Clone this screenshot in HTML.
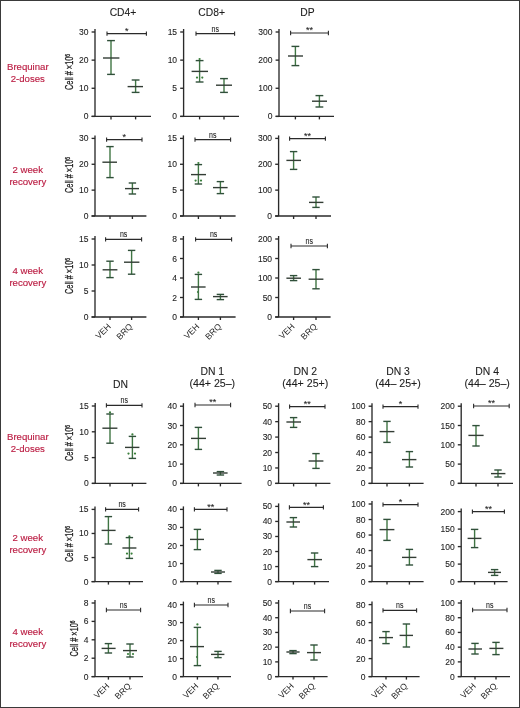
<!DOCTYPE html>
<html><head><meta charset="utf-8"><style>
html,body{margin:0;padding:0;background:#fff;}
body{width:520px;height:708px;overflow:hidden;}
.fr{position:absolute;left:0;top:0;width:518px;height:706px;border:1px solid #3a3a3a;}
svg{position:absolute;left:0;top:0;font-family:"Liberation Sans", sans-serif;filter:blur(0.35px);}
</style></head><body>
<div class="fr"></div>
<svg width="520" height="708" viewBox="0 0 520 708">
<line x1="95.00" y1="29.00" x2="95.00" y2="116.40" stroke="#2a2a2a" stroke-width="1.35"/>
<line x1="91.60" y1="116.40" x2="151.00" y2="116.40" stroke="#2a2a2a" stroke-width="1.35"/>
<line x1="91.60" y1="116.40" x2="95.00" y2="116.40" stroke="#2a2a2a" stroke-width="1.35"/>
<text x="88.50" y="119.40" font-size="8.5" text-anchor="end" fill="#1e1e1e" stroke="#1e1e1e" stroke-width="0.1" >0</text>
<line x1="91.60" y1="88.27" x2="95.00" y2="88.27" stroke="#2a2a2a" stroke-width="1.35"/>
<text x="88.50" y="91.27" font-size="8.5" text-anchor="end" fill="#1e1e1e" stroke="#1e1e1e" stroke-width="0.1" >10</text>
<line x1="91.60" y1="60.13" x2="95.00" y2="60.13" stroke="#2a2a2a" stroke-width="1.35"/>
<text x="88.50" y="63.13" font-size="8.5" text-anchor="end" fill="#1e1e1e" stroke="#1e1e1e" stroke-width="0.1" >20</text>
<line x1="91.60" y1="32.00" x2="95.00" y2="32.00" stroke="#2a2a2a" stroke-width="1.35"/>
<text x="88.50" y="35.00" font-size="8.5" text-anchor="end" fill="#1e1e1e" stroke="#1e1e1e" stroke-width="0.1" >30</text>
<line x1="111.00" y1="116.40" x2="111.00" y2="119.40" stroke="#2a2a2a" stroke-width="1.35"/>
<line x1="135.60" y1="116.40" x2="135.60" y2="119.40" stroke="#2a2a2a" stroke-width="1.35"/>
<line x1="111.00" y1="40.60" x2="111.00" y2="74.40" stroke="#3f7543" stroke-width="1.4"/>
<line x1="107.10" y1="40.60" x2="114.90" y2="40.60" stroke="#30503a" stroke-width="1.4"/>
<line x1="107.10" y1="74.40" x2="114.90" y2="74.40" stroke="#30503a" stroke-width="1.4"/>
<line x1="103.00" y1="58.00" x2="119.40" y2="58.00" stroke="#333d35" stroke-width="1.4"/>
<line x1="135.60" y1="80.00" x2="135.60" y2="92.40" stroke="#3f7543" stroke-width="1.4"/>
<line x1="131.70" y1="80.00" x2="139.50" y2="80.00" stroke="#30503a" stroke-width="1.4"/>
<line x1="131.70" y1="92.40" x2="139.50" y2="92.40" stroke="#30503a" stroke-width="1.4"/>
<line x1="127.60" y1="86.60" x2="143.00" y2="86.60" stroke="#333d35" stroke-width="1.4"/>
<line x1="107.00" y1="33.60" x2="146.40" y2="33.60" stroke="#2a2a2a" stroke-width="1.1"/>
<line x1="107.00" y1="31.40" x2="107.00" y2="35.80" stroke="#2a2a2a" stroke-width="1.1"/>
<line x1="146.40" y1="31.40" x2="146.40" y2="35.80" stroke="#2a2a2a" stroke-width="1.1"/>
<text x="126.70" y="33.90" font-size="9" text-anchor="middle" fill="#1e1e1e" stroke="#1e1e1e" stroke-width="0.1" >*</text>
<text transform="translate(72.50,72.00) rotate(-90)" font-size="10" text-anchor="middle" fill="#1e1e1e" stroke="#1e1e1e" stroke-width="0.3" textLength="36" lengthAdjust="spacingAndGlyphs">Cell # ×10<tspan font-size="6.5" dy="-2.6">6</tspan></text>
<line x1="183.60" y1="29.00" x2="183.60" y2="116.40" stroke="#2a2a2a" stroke-width="1.35"/>
<line x1="180.20" y1="116.40" x2="239.00" y2="116.40" stroke="#2a2a2a" stroke-width="1.35"/>
<line x1="180.20" y1="116.40" x2="183.60" y2="116.40" stroke="#2a2a2a" stroke-width="1.35"/>
<text x="177.10" y="119.40" font-size="8.5" text-anchor="end" fill="#1e1e1e" stroke="#1e1e1e" stroke-width="0.1" >0</text>
<line x1="180.20" y1="88.27" x2="183.60" y2="88.27" stroke="#2a2a2a" stroke-width="1.35"/>
<text x="177.10" y="91.27" font-size="8.5" text-anchor="end" fill="#1e1e1e" stroke="#1e1e1e" stroke-width="0.1" >5</text>
<line x1="180.20" y1="60.13" x2="183.60" y2="60.13" stroke="#2a2a2a" stroke-width="1.35"/>
<text x="177.10" y="63.13" font-size="8.5" text-anchor="end" fill="#1e1e1e" stroke="#1e1e1e" stroke-width="0.1" >10</text>
<line x1="180.20" y1="32.00" x2="183.60" y2="32.00" stroke="#2a2a2a" stroke-width="1.35"/>
<text x="177.10" y="35.00" font-size="8.5" text-anchor="end" fill="#1e1e1e" stroke="#1e1e1e" stroke-width="0.1" >15</text>
<line x1="199.60" y1="116.40" x2="199.60" y2="119.40" stroke="#2a2a2a" stroke-width="1.35"/>
<line x1="224.00" y1="116.40" x2="224.00" y2="119.40" stroke="#2a2a2a" stroke-width="1.35"/>
<circle cx="197.00" cy="77.60" r="1.1" fill="#3a7f3b"/>
<circle cx="202.30" cy="77.60" r="1.1" fill="#3a7f3b"/>
<circle cx="199.60" cy="59.00" r="1.1" fill="#3a7f3b"/>
<line x1="199.60" y1="60.60" x2="199.60" y2="82.00" stroke="#3f7543" stroke-width="1.4"/>
<line x1="195.70" y1="60.60" x2="203.50" y2="60.60" stroke="#30503a" stroke-width="1.4"/>
<line x1="195.70" y1="82.00" x2="203.50" y2="82.00" stroke="#30503a" stroke-width="1.4"/>
<line x1="191.60" y1="71.40" x2="208.00" y2="71.40" stroke="#333d35" stroke-width="1.4"/>
<line x1="224.00" y1="78.60" x2="224.00" y2="92.40" stroke="#3f7543" stroke-width="1.4"/>
<line x1="220.10" y1="78.60" x2="227.90" y2="78.60" stroke="#30503a" stroke-width="1.4"/>
<line x1="220.10" y1="92.40" x2="227.90" y2="92.40" stroke="#30503a" stroke-width="1.4"/>
<line x1="216.00" y1="85.20" x2="232.00" y2="85.20" stroke="#333d35" stroke-width="1.4"/>
<line x1="196.00" y1="33.60" x2="234.60" y2="33.60" stroke="#2a2a2a" stroke-width="1.1"/>
<line x1="196.00" y1="31.40" x2="196.00" y2="35.80" stroke="#2a2a2a" stroke-width="1.1"/>
<line x1="234.60" y1="31.40" x2="234.60" y2="35.80" stroke="#2a2a2a" stroke-width="1.1"/>
<text x="215.30" y="31.60" font-size="8.2" text-anchor="middle" fill="#1e1e1e" stroke="#1e1e1e" stroke-width="0.1" textLength="7.4" lengthAdjust="spacingAndGlyphs">ns</text>
<line x1="279.00" y1="29.00" x2="279.00" y2="116.40" stroke="#2a2a2a" stroke-width="1.35"/>
<line x1="275.60" y1="116.40" x2="334.00" y2="116.40" stroke="#2a2a2a" stroke-width="1.35"/>
<line x1="275.60" y1="116.40" x2="279.00" y2="116.40" stroke="#2a2a2a" stroke-width="1.35"/>
<text x="272.50" y="119.40" font-size="8.5" text-anchor="end" fill="#1e1e1e" stroke="#1e1e1e" stroke-width="0.1" >0</text>
<line x1="275.60" y1="88.27" x2="279.00" y2="88.27" stroke="#2a2a2a" stroke-width="1.35"/>
<text x="272.50" y="91.27" font-size="8.5" text-anchor="end" fill="#1e1e1e" stroke="#1e1e1e" stroke-width="0.1" >100</text>
<line x1="275.60" y1="60.13" x2="279.00" y2="60.13" stroke="#2a2a2a" stroke-width="1.35"/>
<text x="272.50" y="63.13" font-size="8.5" text-anchor="end" fill="#1e1e1e" stroke="#1e1e1e" stroke-width="0.1" >200</text>
<line x1="275.60" y1="32.00" x2="279.00" y2="32.00" stroke="#2a2a2a" stroke-width="1.35"/>
<text x="272.50" y="35.00" font-size="8.5" text-anchor="end" fill="#1e1e1e" stroke="#1e1e1e" stroke-width="0.1" >300</text>
<line x1="295.40" y1="116.40" x2="295.40" y2="119.40" stroke="#2a2a2a" stroke-width="1.35"/>
<line x1="319.40" y1="116.40" x2="319.40" y2="119.40" stroke="#2a2a2a" stroke-width="1.35"/>
<line x1="295.40" y1="46.40" x2="295.40" y2="65.60" stroke="#3f7543" stroke-width="1.4"/>
<line x1="291.50" y1="46.40" x2="299.30" y2="46.40" stroke="#30503a" stroke-width="1.4"/>
<line x1="291.50" y1="65.60" x2="299.30" y2="65.60" stroke="#30503a" stroke-width="1.4"/>
<line x1="288.00" y1="56.00" x2="303.00" y2="56.00" stroke="#333d35" stroke-width="1.4"/>
<line x1="319.40" y1="95.60" x2="319.40" y2="107.00" stroke="#3f7543" stroke-width="1.4"/>
<line x1="315.50" y1="95.60" x2="323.30" y2="95.60" stroke="#30503a" stroke-width="1.4"/>
<line x1="315.50" y1="107.00" x2="323.30" y2="107.00" stroke="#30503a" stroke-width="1.4"/>
<line x1="312.00" y1="101.20" x2="327.00" y2="101.20" stroke="#333d35" stroke-width="1.4"/>
<line x1="290.60" y1="33.00" x2="328.40" y2="33.00" stroke="#2a2a2a" stroke-width="1.1"/>
<line x1="290.60" y1="30.80" x2="290.60" y2="35.20" stroke="#2a2a2a" stroke-width="1.1"/>
<line x1="328.40" y1="30.80" x2="328.40" y2="35.20" stroke="#2a2a2a" stroke-width="1.1"/>
<text x="309.50" y="33.30" font-size="9" text-anchor="middle" fill="#1e1e1e" stroke="#1e1e1e" stroke-width="0.1" >**</text>
<line x1="95.00" y1="135.40" x2="95.00" y2="216.00" stroke="#2a2a2a" stroke-width="1.35"/>
<line x1="91.60" y1="216.00" x2="146.40" y2="216.00" stroke="#2a2a2a" stroke-width="1.35"/>
<line x1="91.60" y1="216.00" x2="95.00" y2="216.00" stroke="#2a2a2a" stroke-width="1.35"/>
<text x="88.50" y="219.00" font-size="8.5" text-anchor="end" fill="#1e1e1e" stroke="#1e1e1e" stroke-width="0.1" >0</text>
<line x1="91.60" y1="190.13" x2="95.00" y2="190.13" stroke="#2a2a2a" stroke-width="1.35"/>
<text x="88.50" y="193.13" font-size="8.5" text-anchor="end" fill="#1e1e1e" stroke="#1e1e1e" stroke-width="0.1" >10</text>
<line x1="91.60" y1="164.27" x2="95.00" y2="164.27" stroke="#2a2a2a" stroke-width="1.35"/>
<text x="88.50" y="167.27" font-size="8.5" text-anchor="end" fill="#1e1e1e" stroke="#1e1e1e" stroke-width="0.1" >20</text>
<line x1="91.60" y1="138.40" x2="95.00" y2="138.40" stroke="#2a2a2a" stroke-width="1.35"/>
<text x="88.50" y="141.40" font-size="8.5" text-anchor="end" fill="#1e1e1e" stroke="#1e1e1e" stroke-width="0.1" >30</text>
<line x1="110.00" y1="216.00" x2="110.00" y2="219.00" stroke="#2a2a2a" stroke-width="1.35"/>
<line x1="132.40" y1="216.00" x2="132.40" y2="219.00" stroke="#2a2a2a" stroke-width="1.35"/>
<line x1="110.00" y1="146.60" x2="110.00" y2="177.60" stroke="#3f7543" stroke-width="1.4"/>
<line x1="106.30" y1="146.60" x2="113.70" y2="146.60" stroke="#30503a" stroke-width="1.4"/>
<line x1="106.30" y1="177.60" x2="113.70" y2="177.60" stroke="#30503a" stroke-width="1.4"/>
<line x1="102.40" y1="162.20" x2="117.00" y2="162.20" stroke="#333d35" stroke-width="1.4"/>
<line x1="132.40" y1="183.00" x2="132.40" y2="194.00" stroke="#3f7543" stroke-width="1.4"/>
<line x1="128.70" y1="183.00" x2="136.10" y2="183.00" stroke="#30503a" stroke-width="1.4"/>
<line x1="128.70" y1="194.00" x2="136.10" y2="194.00" stroke="#30503a" stroke-width="1.4"/>
<line x1="125.00" y1="188.60" x2="139.00" y2="188.60" stroke="#333d35" stroke-width="1.4"/>
<line x1="106.60" y1="139.60" x2="142.00" y2="139.60" stroke="#2a2a2a" stroke-width="1.1"/>
<line x1="106.60" y1="137.40" x2="106.60" y2="141.80" stroke="#2a2a2a" stroke-width="1.1"/>
<line x1="142.00" y1="137.40" x2="142.00" y2="141.80" stroke="#2a2a2a" stroke-width="1.1"/>
<text x="124.30" y="139.90" font-size="9" text-anchor="middle" fill="#1e1e1e" stroke="#1e1e1e" stroke-width="0.1" >*</text>
<text transform="translate(72.50,175.00) rotate(-90)" font-size="10" text-anchor="middle" fill="#1e1e1e" stroke="#1e1e1e" stroke-width="0.3" textLength="36" lengthAdjust="spacingAndGlyphs">Cell # ×10<tspan font-size="6.5" dy="-2.6">6</tspan></text>
<line x1="183.40" y1="135.40" x2="183.40" y2="216.00" stroke="#2a2a2a" stroke-width="1.35"/>
<line x1="180.00" y1="216.00" x2="235.60" y2="216.00" stroke="#2a2a2a" stroke-width="1.35"/>
<line x1="180.00" y1="216.00" x2="183.40" y2="216.00" stroke="#2a2a2a" stroke-width="1.35"/>
<text x="176.90" y="219.00" font-size="8.5" text-anchor="end" fill="#1e1e1e" stroke="#1e1e1e" stroke-width="0.1" >0</text>
<line x1="180.00" y1="190.13" x2="183.40" y2="190.13" stroke="#2a2a2a" stroke-width="1.35"/>
<text x="176.90" y="193.13" font-size="8.5" text-anchor="end" fill="#1e1e1e" stroke="#1e1e1e" stroke-width="0.1" >5</text>
<line x1="180.00" y1="164.27" x2="183.40" y2="164.27" stroke="#2a2a2a" stroke-width="1.35"/>
<text x="176.90" y="167.27" font-size="8.5" text-anchor="end" fill="#1e1e1e" stroke="#1e1e1e" stroke-width="0.1" >10</text>
<line x1="180.00" y1="138.40" x2="183.40" y2="138.40" stroke="#2a2a2a" stroke-width="1.35"/>
<text x="176.90" y="141.40" font-size="8.5" text-anchor="end" fill="#1e1e1e" stroke="#1e1e1e" stroke-width="0.1" >15</text>
<line x1="198.40" y1="216.00" x2="198.40" y2="219.00" stroke="#2a2a2a" stroke-width="1.35"/>
<line x1="220.40" y1="216.00" x2="220.40" y2="219.00" stroke="#2a2a2a" stroke-width="1.35"/>
<circle cx="195.60" cy="180.60" r="1.1" fill="#3a7f3b"/>
<circle cx="201.00" cy="180.60" r="1.1" fill="#3a7f3b"/>
<circle cx="198.40" cy="163.00" r="1.1" fill="#3a7f3b"/>
<line x1="198.40" y1="164.60" x2="198.40" y2="184.00" stroke="#3f7543" stroke-width="1.4"/>
<line x1="194.70" y1="164.60" x2="202.10" y2="164.60" stroke="#30503a" stroke-width="1.4"/>
<line x1="194.70" y1="184.00" x2="202.10" y2="184.00" stroke="#30503a" stroke-width="1.4"/>
<line x1="191.00" y1="174.60" x2="206.00" y2="174.60" stroke="#333d35" stroke-width="1.4"/>
<line x1="220.40" y1="181.60" x2="220.40" y2="193.60" stroke="#3f7543" stroke-width="1.4"/>
<line x1="216.70" y1="181.60" x2="224.10" y2="181.60" stroke="#30503a" stroke-width="1.4"/>
<line x1="216.70" y1="193.60" x2="224.10" y2="193.60" stroke="#30503a" stroke-width="1.4"/>
<line x1="213.00" y1="187.60" x2="227.60" y2="187.60" stroke="#333d35" stroke-width="1.4"/>
<line x1="195.00" y1="139.60" x2="230.60" y2="139.60" stroke="#2a2a2a" stroke-width="1.1"/>
<line x1="195.00" y1="137.40" x2="195.00" y2="141.80" stroke="#2a2a2a" stroke-width="1.1"/>
<line x1="230.60" y1="137.40" x2="230.60" y2="141.80" stroke="#2a2a2a" stroke-width="1.1"/>
<text x="212.80" y="137.60" font-size="8.2" text-anchor="middle" fill="#1e1e1e" stroke="#1e1e1e" stroke-width="0.1" textLength="7.4" lengthAdjust="spacingAndGlyphs">ns</text>
<line x1="278.60" y1="135.40" x2="278.60" y2="216.00" stroke="#2a2a2a" stroke-width="1.35"/>
<line x1="275.20" y1="216.00" x2="331.00" y2="216.00" stroke="#2a2a2a" stroke-width="1.35"/>
<line x1="275.20" y1="216.00" x2="278.60" y2="216.00" stroke="#2a2a2a" stroke-width="1.35"/>
<text x="272.10" y="219.00" font-size="8.5" text-anchor="end" fill="#1e1e1e" stroke="#1e1e1e" stroke-width="0.1" >0</text>
<line x1="275.20" y1="190.13" x2="278.60" y2="190.13" stroke="#2a2a2a" stroke-width="1.35"/>
<text x="272.10" y="193.13" font-size="8.5" text-anchor="end" fill="#1e1e1e" stroke="#1e1e1e" stroke-width="0.1" >100</text>
<line x1="275.20" y1="164.27" x2="278.60" y2="164.27" stroke="#2a2a2a" stroke-width="1.35"/>
<text x="272.10" y="167.27" font-size="8.5" text-anchor="end" fill="#1e1e1e" stroke="#1e1e1e" stroke-width="0.1" >200</text>
<line x1="275.20" y1="138.40" x2="278.60" y2="138.40" stroke="#2a2a2a" stroke-width="1.35"/>
<text x="272.10" y="141.40" font-size="8.5" text-anchor="end" fill="#1e1e1e" stroke="#1e1e1e" stroke-width="0.1" >300</text>
<line x1="293.60" y1="216.00" x2="293.60" y2="219.00" stroke="#2a2a2a" stroke-width="1.35"/>
<line x1="316.00" y1="216.00" x2="316.00" y2="219.00" stroke="#2a2a2a" stroke-width="1.35"/>
<line x1="293.60" y1="151.60" x2="293.60" y2="169.40" stroke="#3f7543" stroke-width="1.4"/>
<line x1="289.90" y1="151.60" x2="297.30" y2="151.60" stroke="#30503a" stroke-width="1.4"/>
<line x1="289.90" y1="169.40" x2="297.30" y2="169.40" stroke="#30503a" stroke-width="1.4"/>
<line x1="286.40" y1="160.40" x2="301.00" y2="160.40" stroke="#333d35" stroke-width="1.4"/>
<line x1="316.00" y1="197.00" x2="316.00" y2="207.40" stroke="#3f7543" stroke-width="1.4"/>
<line x1="312.30" y1="197.00" x2="319.70" y2="197.00" stroke="#30503a" stroke-width="1.4"/>
<line x1="312.30" y1="207.40" x2="319.70" y2="207.40" stroke="#30503a" stroke-width="1.4"/>
<line x1="309.00" y1="202.40" x2="323.40" y2="202.40" stroke="#333d35" stroke-width="1.4"/>
<line x1="289.60" y1="138.60" x2="325.40" y2="138.60" stroke="#2a2a2a" stroke-width="1.1"/>
<line x1="289.60" y1="136.40" x2="289.60" y2="140.80" stroke="#2a2a2a" stroke-width="1.1"/>
<line x1="325.40" y1="136.40" x2="325.40" y2="140.80" stroke="#2a2a2a" stroke-width="1.1"/>
<text x="307.50" y="138.90" font-size="9" text-anchor="middle" fill="#1e1e1e" stroke="#1e1e1e" stroke-width="0.1" >**</text>
<line x1="95.00" y1="236.00" x2="95.00" y2="317.00" stroke="#2a2a2a" stroke-width="1.35"/>
<line x1="91.60" y1="317.00" x2="146.40" y2="317.00" stroke="#2a2a2a" stroke-width="1.35"/>
<line x1="91.60" y1="317.00" x2="95.00" y2="317.00" stroke="#2a2a2a" stroke-width="1.35"/>
<text x="88.50" y="320.00" font-size="8.5" text-anchor="end" fill="#1e1e1e" stroke="#1e1e1e" stroke-width="0.1" >0</text>
<line x1="91.60" y1="291.00" x2="95.00" y2="291.00" stroke="#2a2a2a" stroke-width="1.35"/>
<text x="88.50" y="294.00" font-size="8.5" text-anchor="end" fill="#1e1e1e" stroke="#1e1e1e" stroke-width="0.1" >5</text>
<line x1="91.60" y1="265.00" x2="95.00" y2="265.00" stroke="#2a2a2a" stroke-width="1.35"/>
<text x="88.50" y="268.00" font-size="8.5" text-anchor="end" fill="#1e1e1e" stroke="#1e1e1e" stroke-width="0.1" >10</text>
<line x1="91.60" y1="239.00" x2="95.00" y2="239.00" stroke="#2a2a2a" stroke-width="1.35"/>
<text x="88.50" y="242.00" font-size="8.5" text-anchor="end" fill="#1e1e1e" stroke="#1e1e1e" stroke-width="0.1" >15</text>
<line x1="110.00" y1="317.00" x2="110.00" y2="320.00" stroke="#2a2a2a" stroke-width="1.35"/>
<line x1="131.60" y1="317.00" x2="131.60" y2="320.00" stroke="#2a2a2a" stroke-width="1.35"/>
<line x1="110.00" y1="261.20" x2="110.00" y2="277.60" stroke="#3f7543" stroke-width="1.4"/>
<line x1="106.30" y1="261.20" x2="113.70" y2="261.20" stroke="#30503a" stroke-width="1.4"/>
<line x1="106.30" y1="277.60" x2="113.70" y2="277.60" stroke="#30503a" stroke-width="1.4"/>
<line x1="102.60" y1="269.80" x2="117.40" y2="269.80" stroke="#333d35" stroke-width="1.4"/>
<line x1="131.60" y1="250.40" x2="131.60" y2="274.20" stroke="#3f7543" stroke-width="1.4"/>
<line x1="127.90" y1="250.40" x2="135.30" y2="250.40" stroke="#30503a" stroke-width="1.4"/>
<line x1="127.90" y1="274.20" x2="135.30" y2="274.20" stroke="#30503a" stroke-width="1.4"/>
<line x1="124.00" y1="262.20" x2="139.40" y2="262.20" stroke="#333d35" stroke-width="1.4"/>
<line x1="105.60" y1="239.40" x2="141.60" y2="239.40" stroke="#2a2a2a" stroke-width="1.1"/>
<line x1="105.60" y1="237.20" x2="105.60" y2="241.60" stroke="#2a2a2a" stroke-width="1.1"/>
<line x1="141.60" y1="237.20" x2="141.60" y2="241.60" stroke="#2a2a2a" stroke-width="1.1"/>
<text x="123.60" y="237.40" font-size="8.2" text-anchor="middle" fill="#1e1e1e" stroke="#1e1e1e" stroke-width="0.1" textLength="7.4" lengthAdjust="spacingAndGlyphs">ns</text>
<text transform="translate(111.50,327.00) rotate(-45)" font-size="8.6" text-anchor="end" fill="#1e1e1e">VEH</text>
<text transform="translate(133.10,327.00) rotate(-45)" font-size="8.6" text-anchor="end" fill="#1e1e1e">BRQ</text>
<text transform="translate(72.50,276.00) rotate(-90)" font-size="10" text-anchor="middle" fill="#1e1e1e" stroke="#1e1e1e" stroke-width="0.3" textLength="36" lengthAdjust="spacingAndGlyphs">Cell # ×10<tspan font-size="6.5" dy="-2.6">6</tspan></text>
<line x1="183.40" y1="236.00" x2="183.40" y2="317.00" stroke="#2a2a2a" stroke-width="1.35"/>
<line x1="180.00" y1="317.00" x2="235.60" y2="317.00" stroke="#2a2a2a" stroke-width="1.35"/>
<line x1="180.00" y1="317.00" x2="183.40" y2="317.00" stroke="#2a2a2a" stroke-width="1.35"/>
<text x="176.90" y="320.00" font-size="8.5" text-anchor="end" fill="#1e1e1e" stroke="#1e1e1e" stroke-width="0.1" >0</text>
<line x1="180.00" y1="297.50" x2="183.40" y2="297.50" stroke="#2a2a2a" stroke-width="1.35"/>
<text x="176.90" y="300.50" font-size="8.5" text-anchor="end" fill="#1e1e1e" stroke="#1e1e1e" stroke-width="0.1" >2</text>
<line x1="180.00" y1="278.00" x2="183.40" y2="278.00" stroke="#2a2a2a" stroke-width="1.35"/>
<text x="176.90" y="281.00" font-size="8.5" text-anchor="end" fill="#1e1e1e" stroke="#1e1e1e" stroke-width="0.1" >4</text>
<line x1="180.00" y1="258.50" x2="183.40" y2="258.50" stroke="#2a2a2a" stroke-width="1.35"/>
<text x="176.90" y="261.50" font-size="8.5" text-anchor="end" fill="#1e1e1e" stroke="#1e1e1e" stroke-width="0.1" >6</text>
<line x1="180.00" y1="239.00" x2="183.40" y2="239.00" stroke="#2a2a2a" stroke-width="1.35"/>
<text x="176.90" y="242.00" font-size="8.5" text-anchor="end" fill="#1e1e1e" stroke="#1e1e1e" stroke-width="0.1" >8</text>
<line x1="198.40" y1="317.00" x2="198.40" y2="320.00" stroke="#2a2a2a" stroke-width="1.35"/>
<line x1="220.40" y1="317.00" x2="220.40" y2="320.00" stroke="#2a2a2a" stroke-width="1.35"/>
<circle cx="198.40" cy="272.60" r="1.1" fill="#3a7f3b"/>
<circle cx="198.00" cy="292.00" r="1.1" fill="#3a7f3b"/>
<line x1="198.40" y1="274.40" x2="198.40" y2="299.40" stroke="#3f7543" stroke-width="1.4"/>
<line x1="194.70" y1="274.40" x2="202.10" y2="274.40" stroke="#30503a" stroke-width="1.4"/>
<line x1="194.70" y1="299.40" x2="202.10" y2="299.40" stroke="#30503a" stroke-width="1.4"/>
<line x1="191.00" y1="287.00" x2="205.60" y2="287.00" stroke="#333d35" stroke-width="1.4"/>
<line x1="220.40" y1="294.40" x2="220.40" y2="299.60" stroke="#3f7543" stroke-width="1.4"/>
<line x1="216.70" y1="294.40" x2="224.10" y2="294.40" stroke="#30503a" stroke-width="1.4"/>
<line x1="216.70" y1="299.60" x2="224.10" y2="299.60" stroke="#30503a" stroke-width="1.4"/>
<line x1="213.00" y1="296.60" x2="227.60" y2="296.60" stroke="#333d35" stroke-width="1.4"/>
<line x1="195.60" y1="239.40" x2="231.60" y2="239.40" stroke="#2a2a2a" stroke-width="1.1"/>
<line x1="195.60" y1="237.20" x2="195.60" y2="241.60" stroke="#2a2a2a" stroke-width="1.1"/>
<line x1="231.60" y1="237.20" x2="231.60" y2="241.60" stroke="#2a2a2a" stroke-width="1.1"/>
<text x="213.60" y="237.40" font-size="8.2" text-anchor="middle" fill="#1e1e1e" stroke="#1e1e1e" stroke-width="0.1" textLength="7.4" lengthAdjust="spacingAndGlyphs">ns</text>
<text transform="translate(199.90,327.00) rotate(-45)" font-size="8.6" text-anchor="end" fill="#1e1e1e">VEH</text>
<text transform="translate(221.90,327.00) rotate(-45)" font-size="8.6" text-anchor="end" fill="#1e1e1e">BRQ</text>
<line x1="278.60" y1="236.00" x2="278.60" y2="317.00" stroke="#2a2a2a" stroke-width="1.35"/>
<line x1="275.20" y1="317.00" x2="330.60" y2="317.00" stroke="#2a2a2a" stroke-width="1.35"/>
<line x1="275.20" y1="317.00" x2="278.60" y2="317.00" stroke="#2a2a2a" stroke-width="1.35"/>
<text x="272.10" y="320.00" font-size="8.5" text-anchor="end" fill="#1e1e1e" stroke="#1e1e1e" stroke-width="0.1" >0</text>
<line x1="275.20" y1="297.50" x2="278.60" y2="297.50" stroke="#2a2a2a" stroke-width="1.35"/>
<text x="272.10" y="300.50" font-size="8.5" text-anchor="end" fill="#1e1e1e" stroke="#1e1e1e" stroke-width="0.1" >50</text>
<line x1="275.20" y1="278.00" x2="278.60" y2="278.00" stroke="#2a2a2a" stroke-width="1.35"/>
<text x="272.10" y="281.00" font-size="8.5" text-anchor="end" fill="#1e1e1e" stroke="#1e1e1e" stroke-width="0.1" >100</text>
<line x1="275.20" y1="258.50" x2="278.60" y2="258.50" stroke="#2a2a2a" stroke-width="1.35"/>
<text x="272.10" y="261.50" font-size="8.5" text-anchor="end" fill="#1e1e1e" stroke="#1e1e1e" stroke-width="0.1" >150</text>
<line x1="275.20" y1="239.00" x2="278.60" y2="239.00" stroke="#2a2a2a" stroke-width="1.35"/>
<text x="272.10" y="242.00" font-size="8.5" text-anchor="end" fill="#1e1e1e" stroke="#1e1e1e" stroke-width="0.1" >200</text>
<line x1="293.60" y1="317.00" x2="293.60" y2="320.00" stroke="#2a2a2a" stroke-width="1.35"/>
<line x1="316.00" y1="317.00" x2="316.00" y2="320.00" stroke="#2a2a2a" stroke-width="1.35"/>
<line x1="293.60" y1="275.60" x2="293.60" y2="280.60" stroke="#3f7543" stroke-width="1.4"/>
<line x1="289.90" y1="275.60" x2="297.30" y2="275.60" stroke="#30503a" stroke-width="1.4"/>
<line x1="289.90" y1="280.60" x2="297.30" y2="280.60" stroke="#30503a" stroke-width="1.4"/>
<line x1="286.40" y1="278.20" x2="301.00" y2="278.20" stroke="#333d35" stroke-width="1.4"/>
<line x1="316.00" y1="269.60" x2="316.00" y2="288.80" stroke="#3f7543" stroke-width="1.4"/>
<line x1="312.30" y1="269.60" x2="319.70" y2="269.60" stroke="#30503a" stroke-width="1.4"/>
<line x1="312.30" y1="288.80" x2="319.70" y2="288.80" stroke="#30503a" stroke-width="1.4"/>
<line x1="308.60" y1="279.20" x2="323.40" y2="279.20" stroke="#333d35" stroke-width="1.4"/>
<line x1="291.00" y1="246.00" x2="327.40" y2="246.00" stroke="#2a2a2a" stroke-width="1.1"/>
<line x1="291.00" y1="243.80" x2="291.00" y2="248.20" stroke="#2a2a2a" stroke-width="1.1"/>
<line x1="327.40" y1="243.80" x2="327.40" y2="248.20" stroke="#2a2a2a" stroke-width="1.1"/>
<text x="309.20" y="244.00" font-size="8.2" text-anchor="middle" fill="#1e1e1e" stroke="#1e1e1e" stroke-width="0.1" textLength="7.4" lengthAdjust="spacingAndGlyphs">ns</text>
<text transform="translate(295.10,327.00) rotate(-45)" font-size="8.6" text-anchor="end" fill="#1e1e1e">VEH</text>
<text transform="translate(317.50,327.00) rotate(-45)" font-size="8.6" text-anchor="end" fill="#1e1e1e">BRQ</text>
<line x1="95.20" y1="403.00" x2="95.20" y2="483.40" stroke="#2a2a2a" stroke-width="1.35"/>
<line x1="91.80" y1="483.40" x2="146.40" y2="483.40" stroke="#2a2a2a" stroke-width="1.35"/>
<line x1="91.80" y1="483.40" x2="95.20" y2="483.40" stroke="#2a2a2a" stroke-width="1.35"/>
<text x="88.70" y="486.40" font-size="8.5" text-anchor="end" fill="#1e1e1e" stroke="#1e1e1e" stroke-width="0.1" >0</text>
<line x1="91.80" y1="457.60" x2="95.20" y2="457.60" stroke="#2a2a2a" stroke-width="1.35"/>
<text x="88.70" y="460.60" font-size="8.5" text-anchor="end" fill="#1e1e1e" stroke="#1e1e1e" stroke-width="0.1" >5</text>
<line x1="91.80" y1="431.80" x2="95.20" y2="431.80" stroke="#2a2a2a" stroke-width="1.35"/>
<text x="88.70" y="434.80" font-size="8.5" text-anchor="end" fill="#1e1e1e" stroke="#1e1e1e" stroke-width="0.1" >10</text>
<line x1="91.80" y1="406.00" x2="95.20" y2="406.00" stroke="#2a2a2a" stroke-width="1.35"/>
<text x="88.70" y="409.00" font-size="8.5" text-anchor="end" fill="#1e1e1e" stroke="#1e1e1e" stroke-width="0.1" >15</text>
<line x1="110.00" y1="483.40" x2="110.00" y2="486.40" stroke="#2a2a2a" stroke-width="1.35"/>
<line x1="132.40" y1="483.40" x2="132.40" y2="486.40" stroke="#2a2a2a" stroke-width="1.35"/>
<circle cx="128.50" cy="453.60" r="1.1" fill="#3a7f3b"/>
<circle cx="135.00" cy="453.60" r="1.1" fill="#3a7f3b"/>
<circle cx="132.40" cy="434.40" r="1.1" fill="#3a7f3b"/>
<circle cx="110.00" cy="412.40" r="1.1" fill="#3a7f3b"/>
<line x1="110.00" y1="414.00" x2="110.00" y2="443.20" stroke="#3f7543" stroke-width="1.4"/>
<line x1="106.30" y1="414.00" x2="113.70" y2="414.00" stroke="#30503a" stroke-width="1.4"/>
<line x1="106.30" y1="443.20" x2="113.70" y2="443.20" stroke="#30503a" stroke-width="1.4"/>
<line x1="102.40" y1="428.20" x2="117.40" y2="428.20" stroke="#333d35" stroke-width="1.4"/>
<line x1="132.40" y1="436.40" x2="132.40" y2="458.40" stroke="#3f7543" stroke-width="1.4"/>
<line x1="128.70" y1="436.40" x2="136.10" y2="436.40" stroke="#30503a" stroke-width="1.4"/>
<line x1="128.70" y1="458.40" x2="136.10" y2="458.40" stroke="#30503a" stroke-width="1.4"/>
<line x1="125.00" y1="447.40" x2="139.40" y2="447.40" stroke="#333d35" stroke-width="1.4"/>
<line x1="106.40" y1="405.40" x2="142.00" y2="405.40" stroke="#2a2a2a" stroke-width="1.1"/>
<line x1="106.40" y1="403.20" x2="106.40" y2="407.60" stroke="#2a2a2a" stroke-width="1.1"/>
<line x1="142.00" y1="403.20" x2="142.00" y2="407.60" stroke="#2a2a2a" stroke-width="1.1"/>
<text x="124.20" y="403.40" font-size="8.2" text-anchor="middle" fill="#1e1e1e" stroke="#1e1e1e" stroke-width="0.1" textLength="7.4" lengthAdjust="spacingAndGlyphs">ns</text>
<text transform="translate(72.50,443.00) rotate(-90)" font-size="10" text-anchor="middle" fill="#1e1e1e" stroke="#1e1e1e" stroke-width="0.3" textLength="36" lengthAdjust="spacingAndGlyphs">Cell # ×10<tspan font-size="6.5" dy="-2.6">6</tspan></text>
<line x1="183.40" y1="403.20" x2="183.40" y2="483.40" stroke="#2a2a2a" stroke-width="1.35"/>
<line x1="180.00" y1="483.40" x2="241.60" y2="483.40" stroke="#2a2a2a" stroke-width="1.35"/>
<line x1="180.00" y1="483.40" x2="183.40" y2="483.40" stroke="#2a2a2a" stroke-width="1.35"/>
<text x="176.90" y="486.40" font-size="8.5" text-anchor="end" fill="#1e1e1e" stroke="#1e1e1e" stroke-width="0.1" >0</text>
<line x1="180.00" y1="464.10" x2="183.40" y2="464.10" stroke="#2a2a2a" stroke-width="1.35"/>
<text x="176.90" y="467.10" font-size="8.5" text-anchor="end" fill="#1e1e1e" stroke="#1e1e1e" stroke-width="0.1" >10</text>
<line x1="180.00" y1="444.80" x2="183.40" y2="444.80" stroke="#2a2a2a" stroke-width="1.35"/>
<text x="176.90" y="447.80" font-size="8.5" text-anchor="end" fill="#1e1e1e" stroke="#1e1e1e" stroke-width="0.1" >20</text>
<line x1="180.00" y1="425.50" x2="183.40" y2="425.50" stroke="#2a2a2a" stroke-width="1.35"/>
<text x="176.90" y="428.50" font-size="8.5" text-anchor="end" fill="#1e1e1e" stroke="#1e1e1e" stroke-width="0.1" >30</text>
<line x1="180.00" y1="406.20" x2="183.40" y2="406.20" stroke="#2a2a2a" stroke-width="1.35"/>
<text x="176.90" y="409.20" font-size="8.5" text-anchor="end" fill="#1e1e1e" stroke="#1e1e1e" stroke-width="0.1" >40</text>
<line x1="198.40" y1="483.40" x2="198.40" y2="486.40" stroke="#2a2a2a" stroke-width="1.35"/>
<line x1="220.40" y1="483.40" x2="220.40" y2="486.40" stroke="#2a2a2a" stroke-width="1.35"/>
<line x1="198.40" y1="427.40" x2="198.40" y2="449.40" stroke="#3f7543" stroke-width="1.4"/>
<line x1="194.70" y1="427.40" x2="202.10" y2="427.40" stroke="#30503a" stroke-width="1.4"/>
<line x1="194.70" y1="449.40" x2="202.10" y2="449.40" stroke="#30503a" stroke-width="1.4"/>
<line x1="191.00" y1="438.40" x2="206.00" y2="438.40" stroke="#333d35" stroke-width="1.4"/>
<line x1="220.40" y1="471.60" x2="220.40" y2="475.00" stroke="#3f7543" stroke-width="1.4"/>
<line x1="216.70" y1="471.60" x2="224.10" y2="471.60" stroke="#30503a" stroke-width="1.4"/>
<line x1="216.70" y1="475.00" x2="224.10" y2="475.00" stroke="#30503a" stroke-width="1.4"/>
<line x1="213.00" y1="473.00" x2="227.60" y2="473.00" stroke="#333d35" stroke-width="1.4"/>
<line x1="195.00" y1="405.00" x2="230.60" y2="405.00" stroke="#2a2a2a" stroke-width="1.1"/>
<line x1="195.00" y1="402.80" x2="195.00" y2="407.20" stroke="#2a2a2a" stroke-width="1.1"/>
<line x1="230.60" y1="402.80" x2="230.60" y2="407.20" stroke="#2a2a2a" stroke-width="1.1"/>
<text x="212.80" y="405.30" font-size="9" text-anchor="middle" fill="#1e1e1e" stroke="#1e1e1e" stroke-width="0.1" >**</text>
<line x1="278.60" y1="403.20" x2="278.60" y2="483.40" stroke="#2a2a2a" stroke-width="1.35"/>
<line x1="275.20" y1="483.40" x2="330.40" y2="483.40" stroke="#2a2a2a" stroke-width="1.35"/>
<line x1="275.20" y1="483.40" x2="278.60" y2="483.40" stroke="#2a2a2a" stroke-width="1.35"/>
<text x="272.10" y="486.40" font-size="8.5" text-anchor="end" fill="#1e1e1e" stroke="#1e1e1e" stroke-width="0.1" >0</text>
<line x1="275.20" y1="467.96" x2="278.60" y2="467.96" stroke="#2a2a2a" stroke-width="1.35"/>
<text x="272.10" y="470.96" font-size="8.5" text-anchor="end" fill="#1e1e1e" stroke="#1e1e1e" stroke-width="0.1" >10</text>
<line x1="275.20" y1="452.52" x2="278.60" y2="452.52" stroke="#2a2a2a" stroke-width="1.35"/>
<text x="272.10" y="455.52" font-size="8.5" text-anchor="end" fill="#1e1e1e" stroke="#1e1e1e" stroke-width="0.1" >20</text>
<line x1="275.20" y1="437.08" x2="278.60" y2="437.08" stroke="#2a2a2a" stroke-width="1.35"/>
<text x="272.10" y="440.08" font-size="8.5" text-anchor="end" fill="#1e1e1e" stroke="#1e1e1e" stroke-width="0.1" >30</text>
<line x1="275.20" y1="421.64" x2="278.60" y2="421.64" stroke="#2a2a2a" stroke-width="1.35"/>
<text x="272.10" y="424.64" font-size="8.5" text-anchor="end" fill="#1e1e1e" stroke="#1e1e1e" stroke-width="0.1" >40</text>
<line x1="275.20" y1="406.20" x2="278.60" y2="406.20" stroke="#2a2a2a" stroke-width="1.35"/>
<text x="272.10" y="409.20" font-size="8.5" text-anchor="end" fill="#1e1e1e" stroke="#1e1e1e" stroke-width="0.1" >50</text>
<line x1="293.60" y1="483.40" x2="293.60" y2="486.40" stroke="#2a2a2a" stroke-width="1.35"/>
<line x1="316.00" y1="483.40" x2="316.00" y2="486.40" stroke="#2a2a2a" stroke-width="1.35"/>
<line x1="293.60" y1="417.60" x2="293.60" y2="427.40" stroke="#3f7543" stroke-width="1.4"/>
<line x1="289.90" y1="417.60" x2="297.30" y2="417.60" stroke="#30503a" stroke-width="1.4"/>
<line x1="289.90" y1="427.40" x2="297.30" y2="427.40" stroke="#30503a" stroke-width="1.4"/>
<line x1="286.40" y1="422.00" x2="301.00" y2="422.00" stroke="#333d35" stroke-width="1.4"/>
<line x1="316.00" y1="453.60" x2="316.00" y2="468.40" stroke="#3f7543" stroke-width="1.4"/>
<line x1="312.30" y1="453.60" x2="319.70" y2="453.60" stroke="#30503a" stroke-width="1.4"/>
<line x1="312.30" y1="468.40" x2="319.70" y2="468.40" stroke="#30503a" stroke-width="1.4"/>
<line x1="308.60" y1="461.00" x2="323.40" y2="461.00" stroke="#333d35" stroke-width="1.4"/>
<line x1="289.60" y1="406.60" x2="325.00" y2="406.60" stroke="#2a2a2a" stroke-width="1.1"/>
<line x1="289.60" y1="404.40" x2="289.60" y2="408.80" stroke="#2a2a2a" stroke-width="1.1"/>
<line x1="325.00" y1="404.40" x2="325.00" y2="408.80" stroke="#2a2a2a" stroke-width="1.1"/>
<text x="307.30" y="406.90" font-size="9" text-anchor="middle" fill="#1e1e1e" stroke="#1e1e1e" stroke-width="0.1" >**</text>
<line x1="372.00" y1="403.20" x2="372.00" y2="483.40" stroke="#2a2a2a" stroke-width="1.35"/>
<line x1="368.60" y1="483.40" x2="423.60" y2="483.40" stroke="#2a2a2a" stroke-width="1.35"/>
<line x1="368.60" y1="483.40" x2="372.00" y2="483.40" stroke="#2a2a2a" stroke-width="1.35"/>
<text x="365.50" y="486.40" font-size="8.5" text-anchor="end" fill="#1e1e1e" stroke="#1e1e1e" stroke-width="0.1" >0</text>
<line x1="368.60" y1="467.96" x2="372.00" y2="467.96" stroke="#2a2a2a" stroke-width="1.35"/>
<text x="365.50" y="470.96" font-size="8.5" text-anchor="end" fill="#1e1e1e" stroke="#1e1e1e" stroke-width="0.1" >20</text>
<line x1="368.60" y1="452.52" x2="372.00" y2="452.52" stroke="#2a2a2a" stroke-width="1.35"/>
<text x="365.50" y="455.52" font-size="8.5" text-anchor="end" fill="#1e1e1e" stroke="#1e1e1e" stroke-width="0.1" >40</text>
<line x1="368.60" y1="437.08" x2="372.00" y2="437.08" stroke="#2a2a2a" stroke-width="1.35"/>
<text x="365.50" y="440.08" font-size="8.5" text-anchor="end" fill="#1e1e1e" stroke="#1e1e1e" stroke-width="0.1" >60</text>
<line x1="368.60" y1="421.64" x2="372.00" y2="421.64" stroke="#2a2a2a" stroke-width="1.35"/>
<text x="365.50" y="424.64" font-size="8.5" text-anchor="end" fill="#1e1e1e" stroke="#1e1e1e" stroke-width="0.1" >80</text>
<line x1="368.60" y1="406.20" x2="372.00" y2="406.20" stroke="#2a2a2a" stroke-width="1.35"/>
<text x="365.50" y="409.20" font-size="8.5" text-anchor="end" fill="#1e1e1e" stroke="#1e1e1e" stroke-width="0.1" >100</text>
<line x1="387.00" y1="483.40" x2="387.00" y2="486.40" stroke="#2a2a2a" stroke-width="1.35"/>
<line x1="409.40" y1="483.40" x2="409.40" y2="486.40" stroke="#2a2a2a" stroke-width="1.35"/>
<line x1="387.00" y1="421.40" x2="387.00" y2="442.40" stroke="#3f7543" stroke-width="1.4"/>
<line x1="383.30" y1="421.40" x2="390.70" y2="421.40" stroke="#30503a" stroke-width="1.4"/>
<line x1="383.30" y1="442.40" x2="390.70" y2="442.40" stroke="#30503a" stroke-width="1.4"/>
<line x1="379.60" y1="431.60" x2="394.40" y2="431.60" stroke="#333d35" stroke-width="1.4"/>
<line x1="409.40" y1="451.60" x2="409.40" y2="467.00" stroke="#3f7543" stroke-width="1.4"/>
<line x1="405.70" y1="451.60" x2="413.10" y2="451.60" stroke="#30503a" stroke-width="1.4"/>
<line x1="405.70" y1="467.00" x2="413.10" y2="467.00" stroke="#30503a" stroke-width="1.4"/>
<line x1="402.00" y1="459.60" x2="416.40" y2="459.60" stroke="#333d35" stroke-width="1.4"/>
<line x1="383.00" y1="406.60" x2="418.00" y2="406.60" stroke="#2a2a2a" stroke-width="1.1"/>
<line x1="383.00" y1="404.40" x2="383.00" y2="408.80" stroke="#2a2a2a" stroke-width="1.1"/>
<line x1="418.00" y1="404.40" x2="418.00" y2="408.80" stroke="#2a2a2a" stroke-width="1.1"/>
<text x="400.50" y="406.90" font-size="9" text-anchor="middle" fill="#1e1e1e" stroke="#1e1e1e" stroke-width="0.1" >*</text>
<line x1="461.20" y1="403.20" x2="461.20" y2="483.40" stroke="#2a2a2a" stroke-width="1.35"/>
<line x1="457.80" y1="483.40" x2="513.00" y2="483.40" stroke="#2a2a2a" stroke-width="1.35"/>
<line x1="457.80" y1="483.40" x2="461.20" y2="483.40" stroke="#2a2a2a" stroke-width="1.35"/>
<text x="454.70" y="486.40" font-size="8.5" text-anchor="end" fill="#1e1e1e" stroke="#1e1e1e" stroke-width="0.1" >0</text>
<line x1="457.80" y1="464.10" x2="461.20" y2="464.10" stroke="#2a2a2a" stroke-width="1.35"/>
<text x="454.70" y="467.10" font-size="8.5" text-anchor="end" fill="#1e1e1e" stroke="#1e1e1e" stroke-width="0.1" >50</text>
<line x1="457.80" y1="444.80" x2="461.20" y2="444.80" stroke="#2a2a2a" stroke-width="1.35"/>
<text x="454.70" y="447.80" font-size="8.5" text-anchor="end" fill="#1e1e1e" stroke="#1e1e1e" stroke-width="0.1" >100</text>
<line x1="457.80" y1="425.50" x2="461.20" y2="425.50" stroke="#2a2a2a" stroke-width="1.35"/>
<text x="454.70" y="428.50" font-size="8.5" text-anchor="end" fill="#1e1e1e" stroke="#1e1e1e" stroke-width="0.1" >150</text>
<line x1="457.80" y1="406.20" x2="461.20" y2="406.20" stroke="#2a2a2a" stroke-width="1.35"/>
<text x="454.70" y="409.20" font-size="8.5" text-anchor="end" fill="#1e1e1e" stroke="#1e1e1e" stroke-width="0.1" >200</text>
<line x1="476.00" y1="483.40" x2="476.00" y2="486.40" stroke="#2a2a2a" stroke-width="1.35"/>
<line x1="498.00" y1="483.40" x2="498.00" y2="486.40" stroke="#2a2a2a" stroke-width="1.35"/>
<line x1="476.00" y1="425.60" x2="476.00" y2="446.00" stroke="#3f7543" stroke-width="1.4"/>
<line x1="472.30" y1="425.60" x2="479.70" y2="425.60" stroke="#30503a" stroke-width="1.4"/>
<line x1="472.30" y1="446.00" x2="479.70" y2="446.00" stroke="#30503a" stroke-width="1.4"/>
<line x1="468.40" y1="435.40" x2="483.60" y2="435.40" stroke="#333d35" stroke-width="1.4"/>
<line x1="498.00" y1="470.00" x2="498.00" y2="477.00" stroke="#3f7543" stroke-width="1.4"/>
<line x1="494.30" y1="470.00" x2="501.70" y2="470.00" stroke="#30503a" stroke-width="1.4"/>
<line x1="494.30" y1="477.00" x2="501.70" y2="477.00" stroke="#30503a" stroke-width="1.4"/>
<line x1="491.00" y1="473.60" x2="505.40" y2="473.60" stroke="#333d35" stroke-width="1.4"/>
<line x1="473.60" y1="406.00" x2="509.20" y2="406.00" stroke="#2a2a2a" stroke-width="1.1"/>
<line x1="473.60" y1="403.80" x2="473.60" y2="408.20" stroke="#2a2a2a" stroke-width="1.1"/>
<line x1="509.20" y1="403.80" x2="509.20" y2="408.20" stroke="#2a2a2a" stroke-width="1.1"/>
<text x="491.40" y="406.30" font-size="9" text-anchor="middle" fill="#1e1e1e" stroke="#1e1e1e" stroke-width="0.1" >**</text>
<line x1="95.00" y1="506.40" x2="95.00" y2="581.60" stroke="#2a2a2a" stroke-width="1.35"/>
<line x1="91.60" y1="581.60" x2="143.00" y2="581.60" stroke="#2a2a2a" stroke-width="1.35"/>
<line x1="91.60" y1="581.60" x2="95.00" y2="581.60" stroke="#2a2a2a" stroke-width="1.35"/>
<text x="88.50" y="584.60" font-size="8.5" text-anchor="end" fill="#1e1e1e" stroke="#1e1e1e" stroke-width="0.1" >0</text>
<line x1="91.60" y1="557.53" x2="95.00" y2="557.53" stroke="#2a2a2a" stroke-width="1.35"/>
<text x="88.50" y="560.53" font-size="8.5" text-anchor="end" fill="#1e1e1e" stroke="#1e1e1e" stroke-width="0.1" >5</text>
<line x1="91.60" y1="533.47" x2="95.00" y2="533.47" stroke="#2a2a2a" stroke-width="1.35"/>
<text x="88.50" y="536.47" font-size="8.5" text-anchor="end" fill="#1e1e1e" stroke="#1e1e1e" stroke-width="0.1" >10</text>
<line x1="91.60" y1="509.40" x2="95.00" y2="509.40" stroke="#2a2a2a" stroke-width="1.35"/>
<text x="88.50" y="512.40" font-size="8.5" text-anchor="end" fill="#1e1e1e" stroke="#1e1e1e" stroke-width="0.1" >15</text>
<line x1="108.40" y1="581.60" x2="108.40" y2="584.60" stroke="#2a2a2a" stroke-width="1.35"/>
<line x1="129.40" y1="581.60" x2="129.40" y2="584.60" stroke="#2a2a2a" stroke-width="1.35"/>
<circle cx="127.00" cy="553.60" r="1.1" fill="#3a7f3b"/>
<circle cx="131.60" cy="553.60" r="1.1" fill="#3a7f3b"/>
<circle cx="129.40" cy="536.40" r="1.1" fill="#3a7f3b"/>
<line x1="108.40" y1="516.60" x2="108.40" y2="544.00" stroke="#3f7543" stroke-width="1.4"/>
<line x1="104.70" y1="516.60" x2="112.10" y2="516.60" stroke="#30503a" stroke-width="1.4"/>
<line x1="104.70" y1="544.00" x2="112.10" y2="544.00" stroke="#30503a" stroke-width="1.4"/>
<line x1="101.60" y1="530.40" x2="115.60" y2="530.40" stroke="#333d35" stroke-width="1.4"/>
<line x1="129.40" y1="537.60" x2="129.40" y2="558.40" stroke="#3f7543" stroke-width="1.4"/>
<line x1="125.70" y1="537.60" x2="133.10" y2="537.60" stroke="#30503a" stroke-width="1.4"/>
<line x1="125.70" y1="558.40" x2="133.10" y2="558.40" stroke="#30503a" stroke-width="1.4"/>
<line x1="122.40" y1="548.00" x2="136.40" y2="548.00" stroke="#333d35" stroke-width="1.4"/>
<line x1="105.60" y1="509.40" x2="138.60" y2="509.40" stroke="#2a2a2a" stroke-width="1.1"/>
<line x1="105.60" y1="507.20" x2="105.60" y2="511.60" stroke="#2a2a2a" stroke-width="1.1"/>
<line x1="138.60" y1="507.20" x2="138.60" y2="511.60" stroke="#2a2a2a" stroke-width="1.1"/>
<text x="122.10" y="507.40" font-size="8.2" text-anchor="middle" fill="#1e1e1e" stroke="#1e1e1e" stroke-width="0.1" textLength="7.4" lengthAdjust="spacingAndGlyphs">ns</text>
<text transform="translate(72.50,544.00) rotate(-90)" font-size="10" text-anchor="middle" fill="#1e1e1e" stroke="#1e1e1e" stroke-width="0.3" textLength="36" lengthAdjust="spacingAndGlyphs">Cell # ×10<tspan font-size="6.5" dy="-2.6">6</tspan></text>
<line x1="183.40" y1="506.40" x2="183.40" y2="581.60" stroke="#2a2a2a" stroke-width="1.35"/>
<line x1="180.00" y1="581.60" x2="231.60" y2="581.60" stroke="#2a2a2a" stroke-width="1.35"/>
<line x1="180.00" y1="581.60" x2="183.40" y2="581.60" stroke="#2a2a2a" stroke-width="1.35"/>
<text x="176.90" y="584.60" font-size="8.5" text-anchor="end" fill="#1e1e1e" stroke="#1e1e1e" stroke-width="0.1" >0</text>
<line x1="180.00" y1="563.55" x2="183.40" y2="563.55" stroke="#2a2a2a" stroke-width="1.35"/>
<text x="176.90" y="566.55" font-size="8.5" text-anchor="end" fill="#1e1e1e" stroke="#1e1e1e" stroke-width="0.1" >10</text>
<line x1="180.00" y1="545.50" x2="183.40" y2="545.50" stroke="#2a2a2a" stroke-width="1.35"/>
<text x="176.90" y="548.50" font-size="8.5" text-anchor="end" fill="#1e1e1e" stroke="#1e1e1e" stroke-width="0.1" >20</text>
<line x1="180.00" y1="527.45" x2="183.40" y2="527.45" stroke="#2a2a2a" stroke-width="1.35"/>
<text x="176.90" y="530.45" font-size="8.5" text-anchor="end" fill="#1e1e1e" stroke="#1e1e1e" stroke-width="0.1" >30</text>
<line x1="180.00" y1="509.40" x2="183.40" y2="509.40" stroke="#2a2a2a" stroke-width="1.35"/>
<text x="176.90" y="512.40" font-size="8.5" text-anchor="end" fill="#1e1e1e" stroke="#1e1e1e" stroke-width="0.1" >40</text>
<line x1="197.40" y1="581.60" x2="197.40" y2="584.60" stroke="#2a2a2a" stroke-width="1.35"/>
<line x1="218.00" y1="581.60" x2="218.00" y2="584.60" stroke="#2a2a2a" stroke-width="1.35"/>
<line x1="197.40" y1="529.40" x2="197.40" y2="549.60" stroke="#3f7543" stroke-width="1.4"/>
<line x1="193.70" y1="529.40" x2="201.10" y2="529.40" stroke="#30503a" stroke-width="1.4"/>
<line x1="193.70" y1="549.60" x2="201.10" y2="549.60" stroke="#30503a" stroke-width="1.4"/>
<line x1="190.00" y1="539.40" x2="204.00" y2="539.40" stroke="#333d35" stroke-width="1.4"/>
<line x1="218.00" y1="570.40" x2="218.00" y2="573.40" stroke="#3f7543" stroke-width="1.4"/>
<line x1="214.30" y1="570.40" x2="221.70" y2="570.40" stroke="#30503a" stroke-width="1.4"/>
<line x1="214.30" y1="573.40" x2="221.70" y2="573.40" stroke="#30503a" stroke-width="1.4"/>
<line x1="211.00" y1="572.00" x2="225.00" y2="572.00" stroke="#333d35" stroke-width="1.4"/>
<line x1="194.40" y1="509.40" x2="227.00" y2="509.40" stroke="#2a2a2a" stroke-width="1.1"/>
<line x1="194.40" y1="507.20" x2="194.40" y2="511.60" stroke="#2a2a2a" stroke-width="1.1"/>
<line x1="227.00" y1="507.20" x2="227.00" y2="511.60" stroke="#2a2a2a" stroke-width="1.1"/>
<text x="210.70" y="509.70" font-size="9" text-anchor="middle" fill="#1e1e1e" stroke="#1e1e1e" stroke-width="0.1" >**</text>
<line x1="278.60" y1="503.40" x2="278.60" y2="581.60" stroke="#2a2a2a" stroke-width="1.35"/>
<line x1="275.20" y1="581.60" x2="329.00" y2="581.60" stroke="#2a2a2a" stroke-width="1.35"/>
<line x1="275.20" y1="581.60" x2="278.60" y2="581.60" stroke="#2a2a2a" stroke-width="1.35"/>
<text x="272.10" y="584.60" font-size="8.5" text-anchor="end" fill="#1e1e1e" stroke="#1e1e1e" stroke-width="0.1" >0</text>
<line x1="275.20" y1="566.56" x2="278.60" y2="566.56" stroke="#2a2a2a" stroke-width="1.35"/>
<text x="272.10" y="569.56" font-size="8.5" text-anchor="end" fill="#1e1e1e" stroke="#1e1e1e" stroke-width="0.1" >10</text>
<line x1="275.20" y1="551.52" x2="278.60" y2="551.52" stroke="#2a2a2a" stroke-width="1.35"/>
<text x="272.10" y="554.52" font-size="8.5" text-anchor="end" fill="#1e1e1e" stroke="#1e1e1e" stroke-width="0.1" >20</text>
<line x1="275.20" y1="536.48" x2="278.60" y2="536.48" stroke="#2a2a2a" stroke-width="1.35"/>
<text x="272.10" y="539.48" font-size="8.5" text-anchor="end" fill="#1e1e1e" stroke="#1e1e1e" stroke-width="0.1" >30</text>
<line x1="275.20" y1="521.44" x2="278.60" y2="521.44" stroke="#2a2a2a" stroke-width="1.35"/>
<text x="272.10" y="524.44" font-size="8.5" text-anchor="end" fill="#1e1e1e" stroke="#1e1e1e" stroke-width="0.1" >40</text>
<line x1="275.20" y1="506.40" x2="278.60" y2="506.40" stroke="#2a2a2a" stroke-width="1.35"/>
<text x="272.10" y="509.40" font-size="8.5" text-anchor="end" fill="#1e1e1e" stroke="#1e1e1e" stroke-width="0.1" >50</text>
<line x1="293.40" y1="581.60" x2="293.40" y2="584.60" stroke="#2a2a2a" stroke-width="1.35"/>
<line x1="314.60" y1="581.60" x2="314.60" y2="584.60" stroke="#2a2a2a" stroke-width="1.35"/>
<line x1="293.40" y1="517.60" x2="293.40" y2="527.00" stroke="#3f7543" stroke-width="1.4"/>
<line x1="289.70" y1="517.60" x2="297.10" y2="517.60" stroke="#30503a" stroke-width="1.4"/>
<line x1="289.70" y1="527.00" x2="297.10" y2="527.00" stroke="#30503a" stroke-width="1.4"/>
<line x1="286.40" y1="522.00" x2="300.00" y2="522.00" stroke="#333d35" stroke-width="1.4"/>
<line x1="314.60" y1="553.00" x2="314.60" y2="566.60" stroke="#3f7543" stroke-width="1.4"/>
<line x1="310.90" y1="553.00" x2="318.30" y2="553.00" stroke="#30503a" stroke-width="1.4"/>
<line x1="310.90" y1="566.60" x2="318.30" y2="566.60" stroke="#30503a" stroke-width="1.4"/>
<line x1="307.40" y1="559.60" x2="322.00" y2="559.60" stroke="#333d35" stroke-width="1.4"/>
<line x1="289.40" y1="507.40" x2="323.40" y2="507.40" stroke="#2a2a2a" stroke-width="1.1"/>
<line x1="289.40" y1="505.20" x2="289.40" y2="509.60" stroke="#2a2a2a" stroke-width="1.1"/>
<line x1="323.40" y1="505.20" x2="323.40" y2="509.60" stroke="#2a2a2a" stroke-width="1.1"/>
<text x="306.40" y="507.70" font-size="9" text-anchor="middle" fill="#1e1e1e" stroke="#1e1e1e" stroke-width="0.1" >**</text>
<line x1="372.00" y1="501.00" x2="372.00" y2="581.60" stroke="#2a2a2a" stroke-width="1.35"/>
<line x1="368.60" y1="581.60" x2="423.60" y2="581.60" stroke="#2a2a2a" stroke-width="1.35"/>
<line x1="368.60" y1="581.60" x2="372.00" y2="581.60" stroke="#2a2a2a" stroke-width="1.35"/>
<text x="365.50" y="584.60" font-size="8.5" text-anchor="end" fill="#1e1e1e" stroke="#1e1e1e" stroke-width="0.1" >0</text>
<line x1="368.60" y1="566.08" x2="372.00" y2="566.08" stroke="#2a2a2a" stroke-width="1.35"/>
<text x="365.50" y="569.08" font-size="8.5" text-anchor="end" fill="#1e1e1e" stroke="#1e1e1e" stroke-width="0.1" >20</text>
<line x1="368.60" y1="550.56" x2="372.00" y2="550.56" stroke="#2a2a2a" stroke-width="1.35"/>
<text x="365.50" y="553.56" font-size="8.5" text-anchor="end" fill="#1e1e1e" stroke="#1e1e1e" stroke-width="0.1" >40</text>
<line x1="368.60" y1="535.04" x2="372.00" y2="535.04" stroke="#2a2a2a" stroke-width="1.35"/>
<text x="365.50" y="538.04" font-size="8.5" text-anchor="end" fill="#1e1e1e" stroke="#1e1e1e" stroke-width="0.1" >60</text>
<line x1="368.60" y1="519.52" x2="372.00" y2="519.52" stroke="#2a2a2a" stroke-width="1.35"/>
<text x="365.50" y="522.52" font-size="8.5" text-anchor="end" fill="#1e1e1e" stroke="#1e1e1e" stroke-width="0.1" >80</text>
<line x1="368.60" y1="504.00" x2="372.00" y2="504.00" stroke="#2a2a2a" stroke-width="1.35"/>
<text x="365.50" y="507.00" font-size="8.5" text-anchor="end" fill="#1e1e1e" stroke="#1e1e1e" stroke-width="0.1" >100</text>
<line x1="387.00" y1="581.60" x2="387.00" y2="584.60" stroke="#2a2a2a" stroke-width="1.35"/>
<line x1="409.40" y1="581.60" x2="409.40" y2="584.60" stroke="#2a2a2a" stroke-width="1.35"/>
<line x1="387.00" y1="519.40" x2="387.00" y2="540.40" stroke="#3f7543" stroke-width="1.4"/>
<line x1="383.30" y1="519.40" x2="390.70" y2="519.40" stroke="#30503a" stroke-width="1.4"/>
<line x1="383.30" y1="540.40" x2="390.70" y2="540.40" stroke="#30503a" stroke-width="1.4"/>
<line x1="379.60" y1="529.60" x2="394.40" y2="529.60" stroke="#333d35" stroke-width="1.4"/>
<line x1="409.40" y1="549.40" x2="409.40" y2="565.00" stroke="#3f7543" stroke-width="1.4"/>
<line x1="405.70" y1="549.40" x2="413.10" y2="549.40" stroke="#30503a" stroke-width="1.4"/>
<line x1="405.70" y1="565.00" x2="413.10" y2="565.00" stroke="#30503a" stroke-width="1.4"/>
<line x1="402.00" y1="557.40" x2="416.40" y2="557.40" stroke="#333d35" stroke-width="1.4"/>
<line x1="383.00" y1="504.60" x2="418.00" y2="504.60" stroke="#2a2a2a" stroke-width="1.1"/>
<line x1="383.00" y1="502.40" x2="383.00" y2="506.80" stroke="#2a2a2a" stroke-width="1.1"/>
<line x1="418.00" y1="502.40" x2="418.00" y2="506.80" stroke="#2a2a2a" stroke-width="1.1"/>
<text x="400.50" y="504.90" font-size="9" text-anchor="middle" fill="#1e1e1e" stroke="#1e1e1e" stroke-width="0.1" >*</text>
<line x1="461.20" y1="508.60" x2="461.20" y2="581.60" stroke="#2a2a2a" stroke-width="1.35"/>
<line x1="457.80" y1="581.60" x2="507.60" y2="581.60" stroke="#2a2a2a" stroke-width="1.35"/>
<line x1="457.80" y1="581.60" x2="461.20" y2="581.60" stroke="#2a2a2a" stroke-width="1.35"/>
<text x="454.70" y="584.60" font-size="8.5" text-anchor="end" fill="#1e1e1e" stroke="#1e1e1e" stroke-width="0.1" >0</text>
<line x1="457.80" y1="564.10" x2="461.20" y2="564.10" stroke="#2a2a2a" stroke-width="1.35"/>
<text x="454.70" y="567.10" font-size="8.5" text-anchor="end" fill="#1e1e1e" stroke="#1e1e1e" stroke-width="0.1" >50</text>
<line x1="457.80" y1="546.60" x2="461.20" y2="546.60" stroke="#2a2a2a" stroke-width="1.35"/>
<text x="454.70" y="549.60" font-size="8.5" text-anchor="end" fill="#1e1e1e" stroke="#1e1e1e" stroke-width="0.1" >100</text>
<line x1="457.80" y1="529.10" x2="461.20" y2="529.10" stroke="#2a2a2a" stroke-width="1.35"/>
<text x="454.70" y="532.10" font-size="8.5" text-anchor="end" fill="#1e1e1e" stroke="#1e1e1e" stroke-width="0.1" >150</text>
<line x1="457.80" y1="511.60" x2="461.20" y2="511.60" stroke="#2a2a2a" stroke-width="1.35"/>
<text x="454.70" y="514.60" font-size="8.5" text-anchor="end" fill="#1e1e1e" stroke="#1e1e1e" stroke-width="0.1" >200</text>
<line x1="474.60" y1="581.60" x2="474.60" y2="584.60" stroke="#2a2a2a" stroke-width="1.35"/>
<line x1="494.60" y1="581.60" x2="494.60" y2="584.60" stroke="#2a2a2a" stroke-width="1.35"/>
<line x1="474.60" y1="529.40" x2="474.60" y2="547.60" stroke="#3f7543" stroke-width="1.4"/>
<line x1="470.90" y1="529.40" x2="478.30" y2="529.40" stroke="#30503a" stroke-width="1.4"/>
<line x1="470.90" y1="547.60" x2="478.30" y2="547.60" stroke="#30503a" stroke-width="1.4"/>
<line x1="467.60" y1="538.40" x2="481.40" y2="538.40" stroke="#333d35" stroke-width="1.4"/>
<line x1="494.60" y1="569.60" x2="494.60" y2="575.40" stroke="#3f7543" stroke-width="1.4"/>
<line x1="490.90" y1="569.60" x2="498.30" y2="569.60" stroke="#30503a" stroke-width="1.4"/>
<line x1="490.90" y1="575.40" x2="498.30" y2="575.40" stroke="#30503a" stroke-width="1.4"/>
<line x1="488.00" y1="572.40" x2="501.00" y2="572.40" stroke="#333d35" stroke-width="1.4"/>
<line x1="472.40" y1="511.60" x2="504.40" y2="511.60" stroke="#2a2a2a" stroke-width="1.1"/>
<line x1="472.40" y1="509.40" x2="472.40" y2="513.80" stroke="#2a2a2a" stroke-width="1.1"/>
<line x1="504.40" y1="509.40" x2="504.40" y2="513.80" stroke="#2a2a2a" stroke-width="1.1"/>
<text x="488.40" y="511.90" font-size="9" text-anchor="middle" fill="#1e1e1e" stroke="#1e1e1e" stroke-width="0.1" >**</text>
<line x1="95.00" y1="600.00" x2="95.00" y2="676.60" stroke="#2a2a2a" stroke-width="1.35"/>
<line x1="91.60" y1="676.60" x2="143.00" y2="676.60" stroke="#2a2a2a" stroke-width="1.35"/>
<line x1="91.60" y1="676.60" x2="95.00" y2="676.60" stroke="#2a2a2a" stroke-width="1.35"/>
<text x="88.50" y="679.60" font-size="8.5" text-anchor="end" fill="#1e1e1e" stroke="#1e1e1e" stroke-width="0.1" >0</text>
<line x1="91.60" y1="658.20" x2="95.00" y2="658.20" stroke="#2a2a2a" stroke-width="1.35"/>
<text x="88.50" y="661.20" font-size="8.5" text-anchor="end" fill="#1e1e1e" stroke="#1e1e1e" stroke-width="0.1" >2</text>
<line x1="91.60" y1="639.80" x2="95.00" y2="639.80" stroke="#2a2a2a" stroke-width="1.35"/>
<text x="88.50" y="642.80" font-size="8.5" text-anchor="end" fill="#1e1e1e" stroke="#1e1e1e" stroke-width="0.1" >4</text>
<line x1="91.60" y1="621.40" x2="95.00" y2="621.40" stroke="#2a2a2a" stroke-width="1.35"/>
<text x="88.50" y="624.40" font-size="8.5" text-anchor="end" fill="#1e1e1e" stroke="#1e1e1e" stroke-width="0.1" >6</text>
<line x1="91.60" y1="603.00" x2="95.00" y2="603.00" stroke="#2a2a2a" stroke-width="1.35"/>
<text x="88.50" y="606.00" font-size="8.5" text-anchor="end" fill="#1e1e1e" stroke="#1e1e1e" stroke-width="0.1" >8</text>
<line x1="108.40" y1="676.60" x2="108.40" y2="679.60" stroke="#2a2a2a" stroke-width="1.35"/>
<line x1="130.00" y1="676.60" x2="130.00" y2="679.60" stroke="#2a2a2a" stroke-width="1.35"/>
<circle cx="128.00" cy="654.00" r="1.1" fill="#3a7f3b"/>
<circle cx="133.00" cy="654.00" r="1.1" fill="#3a7f3b"/>
<line x1="108.40" y1="643.60" x2="108.40" y2="653.00" stroke="#3f7543" stroke-width="1.4"/>
<line x1="104.70" y1="643.60" x2="112.10" y2="643.60" stroke="#30503a" stroke-width="1.4"/>
<line x1="104.70" y1="653.00" x2="112.10" y2="653.00" stroke="#30503a" stroke-width="1.4"/>
<line x1="101.60" y1="648.40" x2="115.60" y2="648.40" stroke="#333d35" stroke-width="1.4"/>
<line x1="130.00" y1="644.00" x2="130.00" y2="657.00" stroke="#3f7543" stroke-width="1.4"/>
<line x1="126.30" y1="644.00" x2="133.70" y2="644.00" stroke="#30503a" stroke-width="1.4"/>
<line x1="126.30" y1="657.00" x2="133.70" y2="657.00" stroke="#30503a" stroke-width="1.4"/>
<line x1="123.00" y1="650.60" x2="137.00" y2="650.60" stroke="#333d35" stroke-width="1.4"/>
<line x1="106.40" y1="610.00" x2="140.60" y2="610.00" stroke="#2a2a2a" stroke-width="1.1"/>
<line x1="106.40" y1="607.80" x2="106.40" y2="612.20" stroke="#2a2a2a" stroke-width="1.1"/>
<line x1="140.60" y1="607.80" x2="140.60" y2="612.20" stroke="#2a2a2a" stroke-width="1.1"/>
<text x="123.50" y="608.00" font-size="8.2" text-anchor="middle" fill="#1e1e1e" stroke="#1e1e1e" stroke-width="0.1" textLength="7.4" lengthAdjust="spacingAndGlyphs">ns</text>
<text transform="translate(109.90,686.60) rotate(-45)" font-size="8.6" text-anchor="end" fill="#1e1e1e">VEH</text>
<text transform="translate(131.50,686.60) rotate(-45)" font-size="8.6" text-anchor="end" fill="#1e1e1e">BRQ</text>
<text transform="translate(78.00,638.50) rotate(-90)" font-size="10" text-anchor="middle" fill="#1e1e1e" stroke="#1e1e1e" stroke-width="0.3" textLength="36" lengthAdjust="spacingAndGlyphs">Cell # ×10<tspan font-size="6.5" dy="-2.6">6</tspan></text>
<line x1="183.40" y1="601.60" x2="183.40" y2="676.60" stroke="#2a2a2a" stroke-width="1.35"/>
<line x1="180.00" y1="676.60" x2="231.00" y2="676.60" stroke="#2a2a2a" stroke-width="1.35"/>
<line x1="180.00" y1="676.60" x2="183.40" y2="676.60" stroke="#2a2a2a" stroke-width="1.35"/>
<text x="176.90" y="679.60" font-size="8.5" text-anchor="end" fill="#1e1e1e" stroke="#1e1e1e" stroke-width="0.1" >0</text>
<line x1="180.00" y1="658.60" x2="183.40" y2="658.60" stroke="#2a2a2a" stroke-width="1.35"/>
<text x="176.90" y="661.60" font-size="8.5" text-anchor="end" fill="#1e1e1e" stroke="#1e1e1e" stroke-width="0.1" >10</text>
<line x1="180.00" y1="640.60" x2="183.40" y2="640.60" stroke="#2a2a2a" stroke-width="1.35"/>
<text x="176.90" y="643.60" font-size="8.5" text-anchor="end" fill="#1e1e1e" stroke="#1e1e1e" stroke-width="0.1" >20</text>
<line x1="180.00" y1="622.60" x2="183.40" y2="622.60" stroke="#2a2a2a" stroke-width="1.35"/>
<text x="176.90" y="625.60" font-size="8.5" text-anchor="end" fill="#1e1e1e" stroke="#1e1e1e" stroke-width="0.1" >30</text>
<line x1="180.00" y1="604.60" x2="183.40" y2="604.60" stroke="#2a2a2a" stroke-width="1.35"/>
<text x="176.90" y="607.60" font-size="8.5" text-anchor="end" fill="#1e1e1e" stroke="#1e1e1e" stroke-width="0.1" >40</text>
<line x1="197.40" y1="676.60" x2="197.40" y2="679.60" stroke="#2a2a2a" stroke-width="1.35"/>
<line x1="218.00" y1="676.60" x2="218.00" y2="679.60" stroke="#2a2a2a" stroke-width="1.35"/>
<circle cx="197.40" cy="624.40" r="1.1" fill="#3a7f3b"/>
<circle cx="197.00" cy="657.00" r="1.1" fill="#3a7f3b"/>
<line x1="197.40" y1="627.40" x2="197.40" y2="665.60" stroke="#3f7543" stroke-width="1.4"/>
<line x1="193.70" y1="627.40" x2="201.10" y2="627.40" stroke="#30503a" stroke-width="1.4"/>
<line x1="193.70" y1="665.60" x2="201.10" y2="665.60" stroke="#30503a" stroke-width="1.4"/>
<line x1="190.00" y1="646.60" x2="204.00" y2="646.60" stroke="#333d35" stroke-width="1.4"/>
<line x1="218.00" y1="651.40" x2="218.00" y2="657.60" stroke="#3f7543" stroke-width="1.4"/>
<line x1="214.30" y1="651.40" x2="221.70" y2="651.40" stroke="#30503a" stroke-width="1.4"/>
<line x1="214.30" y1="657.60" x2="221.70" y2="657.60" stroke="#30503a" stroke-width="1.4"/>
<line x1="211.00" y1="654.40" x2="224.40" y2="654.40" stroke="#333d35" stroke-width="1.4"/>
<line x1="194.40" y1="605.00" x2="228.00" y2="605.00" stroke="#2a2a2a" stroke-width="1.1"/>
<line x1="194.40" y1="602.80" x2="194.40" y2="607.20" stroke="#2a2a2a" stroke-width="1.1"/>
<line x1="228.00" y1="602.80" x2="228.00" y2="607.20" stroke="#2a2a2a" stroke-width="1.1"/>
<text x="211.20" y="603.00" font-size="8.2" text-anchor="middle" fill="#1e1e1e" stroke="#1e1e1e" stroke-width="0.1" textLength="7.4" lengthAdjust="spacingAndGlyphs">ns</text>
<text transform="translate(198.90,686.60) rotate(-45)" font-size="8.6" text-anchor="end" fill="#1e1e1e">VEH</text>
<text transform="translate(219.50,686.60) rotate(-45)" font-size="8.6" text-anchor="end" fill="#1e1e1e">BRQ</text>
<line x1="278.60" y1="600.00" x2="278.60" y2="676.60" stroke="#2a2a2a" stroke-width="1.35"/>
<line x1="275.20" y1="676.60" x2="327.60" y2="676.60" stroke="#2a2a2a" stroke-width="1.35"/>
<line x1="275.20" y1="676.60" x2="278.60" y2="676.60" stroke="#2a2a2a" stroke-width="1.35"/>
<text x="272.10" y="679.60" font-size="8.5" text-anchor="end" fill="#1e1e1e" stroke="#1e1e1e" stroke-width="0.1" >0</text>
<line x1="275.20" y1="661.88" x2="278.60" y2="661.88" stroke="#2a2a2a" stroke-width="1.35"/>
<text x="272.10" y="664.88" font-size="8.5" text-anchor="end" fill="#1e1e1e" stroke="#1e1e1e" stroke-width="0.1" >10</text>
<line x1="275.20" y1="647.16" x2="278.60" y2="647.16" stroke="#2a2a2a" stroke-width="1.35"/>
<text x="272.10" y="650.16" font-size="8.5" text-anchor="end" fill="#1e1e1e" stroke="#1e1e1e" stroke-width="0.1" >20</text>
<line x1="275.20" y1="632.44" x2="278.60" y2="632.44" stroke="#2a2a2a" stroke-width="1.35"/>
<text x="272.10" y="635.44" font-size="8.5" text-anchor="end" fill="#1e1e1e" stroke="#1e1e1e" stroke-width="0.1" >30</text>
<line x1="275.20" y1="617.72" x2="278.60" y2="617.72" stroke="#2a2a2a" stroke-width="1.35"/>
<text x="272.10" y="620.72" font-size="8.5" text-anchor="end" fill="#1e1e1e" stroke="#1e1e1e" stroke-width="0.1" >40</text>
<line x1="275.20" y1="603.00" x2="278.60" y2="603.00" stroke="#2a2a2a" stroke-width="1.35"/>
<text x="272.10" y="606.00" font-size="8.5" text-anchor="end" fill="#1e1e1e" stroke="#1e1e1e" stroke-width="0.1" >50</text>
<line x1="293.00" y1="676.60" x2="293.00" y2="679.60" stroke="#2a2a2a" stroke-width="1.35"/>
<line x1="314.00" y1="676.60" x2="314.00" y2="679.60" stroke="#2a2a2a" stroke-width="1.35"/>
<line x1="293.00" y1="650.60" x2="293.00" y2="653.60" stroke="#3f7543" stroke-width="1.4"/>
<line x1="289.30" y1="650.60" x2="296.70" y2="650.60" stroke="#30503a" stroke-width="1.4"/>
<line x1="289.30" y1="653.60" x2="296.70" y2="653.60" stroke="#30503a" stroke-width="1.4"/>
<line x1="286.40" y1="652.00" x2="299.60" y2="652.00" stroke="#333d35" stroke-width="1.4"/>
<line x1="314.00" y1="645.00" x2="314.00" y2="660.00" stroke="#3f7543" stroke-width="1.4"/>
<line x1="310.30" y1="645.00" x2="317.70" y2="645.00" stroke="#30503a" stroke-width="1.4"/>
<line x1="310.30" y1="660.00" x2="317.70" y2="660.00" stroke="#30503a" stroke-width="1.4"/>
<line x1="307.00" y1="652.60" x2="321.00" y2="652.60" stroke="#333d35" stroke-width="1.4"/>
<line x1="290.40" y1="611.00" x2="324.60" y2="611.00" stroke="#2a2a2a" stroke-width="1.1"/>
<line x1="290.40" y1="608.80" x2="290.40" y2="613.20" stroke="#2a2a2a" stroke-width="1.1"/>
<line x1="324.60" y1="608.80" x2="324.60" y2="613.20" stroke="#2a2a2a" stroke-width="1.1"/>
<text x="307.50" y="609.00" font-size="8.2" text-anchor="middle" fill="#1e1e1e" stroke="#1e1e1e" stroke-width="0.1" textLength="7.4" lengthAdjust="spacingAndGlyphs">ns</text>
<text transform="translate(294.50,686.60) rotate(-45)" font-size="8.6" text-anchor="end" fill="#1e1e1e">VEH</text>
<text transform="translate(315.50,686.60) rotate(-45)" font-size="8.6" text-anchor="end" fill="#1e1e1e">BRQ</text>
<line x1="372.00" y1="601.60" x2="372.00" y2="676.60" stroke="#2a2a2a" stroke-width="1.35"/>
<line x1="368.60" y1="676.60" x2="419.60" y2="676.60" stroke="#2a2a2a" stroke-width="1.35"/>
<line x1="368.60" y1="676.60" x2="372.00" y2="676.60" stroke="#2a2a2a" stroke-width="1.35"/>
<text x="365.50" y="679.60" font-size="8.5" text-anchor="end" fill="#1e1e1e" stroke="#1e1e1e" stroke-width="0.1" >0</text>
<line x1="368.60" y1="658.60" x2="372.00" y2="658.60" stroke="#2a2a2a" stroke-width="1.35"/>
<text x="365.50" y="661.60" font-size="8.5" text-anchor="end" fill="#1e1e1e" stroke="#1e1e1e" stroke-width="0.1" >20</text>
<line x1="368.60" y1="640.60" x2="372.00" y2="640.60" stroke="#2a2a2a" stroke-width="1.35"/>
<text x="365.50" y="643.60" font-size="8.5" text-anchor="end" fill="#1e1e1e" stroke="#1e1e1e" stroke-width="0.1" >40</text>
<line x1="368.60" y1="622.60" x2="372.00" y2="622.60" stroke="#2a2a2a" stroke-width="1.35"/>
<text x="365.50" y="625.60" font-size="8.5" text-anchor="end" fill="#1e1e1e" stroke="#1e1e1e" stroke-width="0.1" >60</text>
<line x1="368.60" y1="604.60" x2="372.00" y2="604.60" stroke="#2a2a2a" stroke-width="1.35"/>
<text x="365.50" y="607.60" font-size="8.5" text-anchor="end" fill="#1e1e1e" stroke="#1e1e1e" stroke-width="0.1" >80</text>
<line x1="386.00" y1="676.60" x2="386.00" y2="679.60" stroke="#2a2a2a" stroke-width="1.35"/>
<line x1="406.40" y1="676.60" x2="406.40" y2="679.60" stroke="#2a2a2a" stroke-width="1.35"/>
<line x1="386.00" y1="631.60" x2="386.00" y2="643.60" stroke="#3f7543" stroke-width="1.4"/>
<line x1="382.30" y1="631.60" x2="389.70" y2="631.60" stroke="#30503a" stroke-width="1.4"/>
<line x1="382.30" y1="643.60" x2="389.70" y2="643.60" stroke="#30503a" stroke-width="1.4"/>
<line x1="379.00" y1="637.60" x2="393.00" y2="637.60" stroke="#333d35" stroke-width="1.4"/>
<line x1="406.40" y1="624.00" x2="406.40" y2="647.00" stroke="#3f7543" stroke-width="1.4"/>
<line x1="402.70" y1="624.00" x2="410.10" y2="624.00" stroke="#30503a" stroke-width="1.4"/>
<line x1="402.70" y1="647.00" x2="410.10" y2="647.00" stroke="#30503a" stroke-width="1.4"/>
<line x1="399.60" y1="635.40" x2="413.00" y2="635.40" stroke="#333d35" stroke-width="1.4"/>
<line x1="383.00" y1="610.40" x2="416.60" y2="610.40" stroke="#2a2a2a" stroke-width="1.1"/>
<line x1="383.00" y1="608.20" x2="383.00" y2="612.60" stroke="#2a2a2a" stroke-width="1.1"/>
<line x1="416.60" y1="608.20" x2="416.60" y2="612.60" stroke="#2a2a2a" stroke-width="1.1"/>
<text x="399.80" y="608.40" font-size="8.2" text-anchor="middle" fill="#1e1e1e" stroke="#1e1e1e" stroke-width="0.1" textLength="7.4" lengthAdjust="spacingAndGlyphs">ns</text>
<text transform="translate(387.50,686.60) rotate(-45)" font-size="8.6" text-anchor="end" fill="#1e1e1e">VEH</text>
<text transform="translate(407.90,686.60) rotate(-45)" font-size="8.6" text-anchor="end" fill="#1e1e1e">BRQ</text>
<line x1="461.20" y1="600.00" x2="461.20" y2="676.60" stroke="#2a2a2a" stroke-width="1.35"/>
<line x1="457.80" y1="676.60" x2="510.00" y2="676.60" stroke="#2a2a2a" stroke-width="1.35"/>
<line x1="457.80" y1="676.60" x2="461.20" y2="676.60" stroke="#2a2a2a" stroke-width="1.35"/>
<text x="454.70" y="679.60" font-size="8.5" text-anchor="end" fill="#1e1e1e" stroke="#1e1e1e" stroke-width="0.1" >0</text>
<line x1="457.80" y1="661.88" x2="461.20" y2="661.88" stroke="#2a2a2a" stroke-width="1.35"/>
<text x="454.70" y="664.88" font-size="8.5" text-anchor="end" fill="#1e1e1e" stroke="#1e1e1e" stroke-width="0.1" >20</text>
<line x1="457.80" y1="647.16" x2="461.20" y2="647.16" stroke="#2a2a2a" stroke-width="1.35"/>
<text x="454.70" y="650.16" font-size="8.5" text-anchor="end" fill="#1e1e1e" stroke="#1e1e1e" stroke-width="0.1" >40</text>
<line x1="457.80" y1="632.44" x2="461.20" y2="632.44" stroke="#2a2a2a" stroke-width="1.35"/>
<text x="454.70" y="635.44" font-size="8.5" text-anchor="end" fill="#1e1e1e" stroke="#1e1e1e" stroke-width="0.1" >60</text>
<line x1="457.80" y1="617.72" x2="461.20" y2="617.72" stroke="#2a2a2a" stroke-width="1.35"/>
<text x="454.70" y="620.72" font-size="8.5" text-anchor="end" fill="#1e1e1e" stroke="#1e1e1e" stroke-width="0.1" >80</text>
<line x1="457.80" y1="603.00" x2="461.20" y2="603.00" stroke="#2a2a2a" stroke-width="1.35"/>
<text x="454.70" y="606.00" font-size="8.5" text-anchor="end" fill="#1e1e1e" stroke="#1e1e1e" stroke-width="0.1" >100</text>
<line x1="475.00" y1="676.60" x2="475.00" y2="679.60" stroke="#2a2a2a" stroke-width="1.35"/>
<line x1="496.00" y1="676.60" x2="496.00" y2="679.60" stroke="#2a2a2a" stroke-width="1.35"/>
<line x1="475.00" y1="643.40" x2="475.00" y2="654.00" stroke="#3f7543" stroke-width="1.4"/>
<line x1="471.30" y1="643.40" x2="478.70" y2="643.40" stroke="#30503a" stroke-width="1.4"/>
<line x1="471.30" y1="654.00" x2="478.70" y2="654.00" stroke="#30503a" stroke-width="1.4"/>
<line x1="468.40" y1="649.00" x2="482.00" y2="649.00" stroke="#333d35" stroke-width="1.4"/>
<line x1="496.00" y1="642.40" x2="496.00" y2="654.60" stroke="#3f7543" stroke-width="1.4"/>
<line x1="492.30" y1="642.40" x2="499.70" y2="642.40" stroke="#30503a" stroke-width="1.4"/>
<line x1="492.30" y1="654.60" x2="499.70" y2="654.60" stroke="#30503a" stroke-width="1.4"/>
<line x1="489.40" y1="648.40" x2="503.40" y2="648.40" stroke="#333d35" stroke-width="1.4"/>
<line x1="472.60" y1="610.00" x2="507.00" y2="610.00" stroke="#2a2a2a" stroke-width="1.1"/>
<line x1="472.60" y1="607.80" x2="472.60" y2="612.20" stroke="#2a2a2a" stroke-width="1.1"/>
<line x1="507.00" y1="607.80" x2="507.00" y2="612.20" stroke="#2a2a2a" stroke-width="1.1"/>
<text x="489.80" y="608.00" font-size="8.2" text-anchor="middle" fill="#1e1e1e" stroke="#1e1e1e" stroke-width="0.1" textLength="7.4" lengthAdjust="spacingAndGlyphs">ns</text>
<text transform="translate(476.50,686.60) rotate(-45)" font-size="8.6" text-anchor="end" fill="#1e1e1e">VEH</text>
<text transform="translate(497.50,686.60) rotate(-45)" font-size="8.6" text-anchor="end" fill="#1e1e1e">BRQ</text>
<text x="123.00" y="15.60" font-size="10.3" text-anchor="middle" fill="#1e1e1e" stroke="#1e1e1e" stroke-width="0.1" >CD4+</text>
<text x="211.60" y="15.60" font-size="10.3" text-anchor="middle" fill="#1e1e1e" stroke="#1e1e1e" stroke-width="0.1" >CD8+</text>
<text x="307.50" y="15.60" font-size="10.3" text-anchor="middle" fill="#1e1e1e" stroke="#1e1e1e" stroke-width="0.1" >DP</text>
<text x="120.60" y="387.50" font-size="10.4" text-anchor="middle" fill="#1e1e1e" stroke="#1e1e1e" stroke-width="0.1" >DN</text>
<text x="212.30" y="375.30" font-size="10.4" text-anchor="middle" fill="#1e1e1e" stroke="#1e1e1e" stroke-width="0.1" >DN 1</text>
<text x="212.30" y="387.20" font-size="10.6" text-anchor="middle" fill="#1e1e1e" stroke="#1e1e1e" stroke-width="0.1" >(44+ 25–)</text>
<text x="305.30" y="375.30" font-size="10.4" text-anchor="middle" fill="#1e1e1e" stroke="#1e1e1e" stroke-width="0.1" >DN 2</text>
<text x="305.30" y="387.20" font-size="10.6" text-anchor="middle" fill="#1e1e1e" stroke="#1e1e1e" stroke-width="0.1" >(44+ 25+)</text>
<text x="398.00" y="375.30" font-size="10.4" text-anchor="middle" fill="#1e1e1e" stroke="#1e1e1e" stroke-width="0.1" >DN 3</text>
<text x="398.00" y="387.20" font-size="10.6" text-anchor="middle" fill="#1e1e1e" stroke="#1e1e1e" stroke-width="0.1" >(44– 25+)</text>
<text x="487.20" y="375.30" font-size="10.4" text-anchor="middle" fill="#1e1e1e" stroke="#1e1e1e" stroke-width="0.1" >DN 4</text>
<text x="487.20" y="387.20" font-size="10.6" text-anchor="middle" fill="#1e1e1e" stroke="#1e1e1e" stroke-width="0.1" >(44– 25–)</text>
<text transform="translate(27.8,69.50) scale(1,1)" font-size="9.6" text-anchor="middle" fill="#bb1d43" stroke="#bb1d43" stroke-width="0.15">Brequinar</text>
<text transform="translate(27.8,81.50) scale(1,1)" font-size="9.6" text-anchor="middle" fill="#bb1d43" stroke="#bb1d43" stroke-width="0.15">2-doses</text>
<text transform="translate(27.8,172.50) scale(1,1)" font-size="9.6" text-anchor="middle" fill="#bb1d43" stroke="#bb1d43" stroke-width="0.15">2 week</text>
<text transform="translate(27.8,184.50) scale(1,1)" font-size="9.6" text-anchor="middle" fill="#bb1d43" stroke="#bb1d43" stroke-width="0.15">recovery</text>
<text transform="translate(27.8,273.80) scale(1,1)" font-size="9.6" text-anchor="middle" fill="#bb1d43" stroke="#bb1d43" stroke-width="0.15">4 week</text>
<text transform="translate(27.8,285.80) scale(1,1)" font-size="9.6" text-anchor="middle" fill="#bb1d43" stroke="#bb1d43" stroke-width="0.15">recovery</text>
<text transform="translate(27.8,440.20) scale(1,1)" font-size="9.6" text-anchor="middle" fill="#bb1d43" stroke="#bb1d43" stroke-width="0.15">Brequinar</text>
<text transform="translate(27.8,452.20) scale(1,1)" font-size="9.6" text-anchor="middle" fill="#bb1d43" stroke="#bb1d43" stroke-width="0.15">2-doses</text>
<text transform="translate(27.8,540.60) scale(1,1)" font-size="9.6" text-anchor="middle" fill="#bb1d43" stroke="#bb1d43" stroke-width="0.15">2 week</text>
<text transform="translate(27.8,552.60) scale(1,1)" font-size="9.6" text-anchor="middle" fill="#bb1d43" stroke="#bb1d43" stroke-width="0.15">recovery</text>
<text transform="translate(27.8,634.80) scale(1,1)" font-size="9.6" text-anchor="middle" fill="#bb1d43" stroke="#bb1d43" stroke-width="0.15">4 week</text>
<text transform="translate(27.8,646.80) scale(1,1)" font-size="9.6" text-anchor="middle" fill="#bb1d43" stroke="#bb1d43" stroke-width="0.15">recovery</text>
</svg>
</body></html>
